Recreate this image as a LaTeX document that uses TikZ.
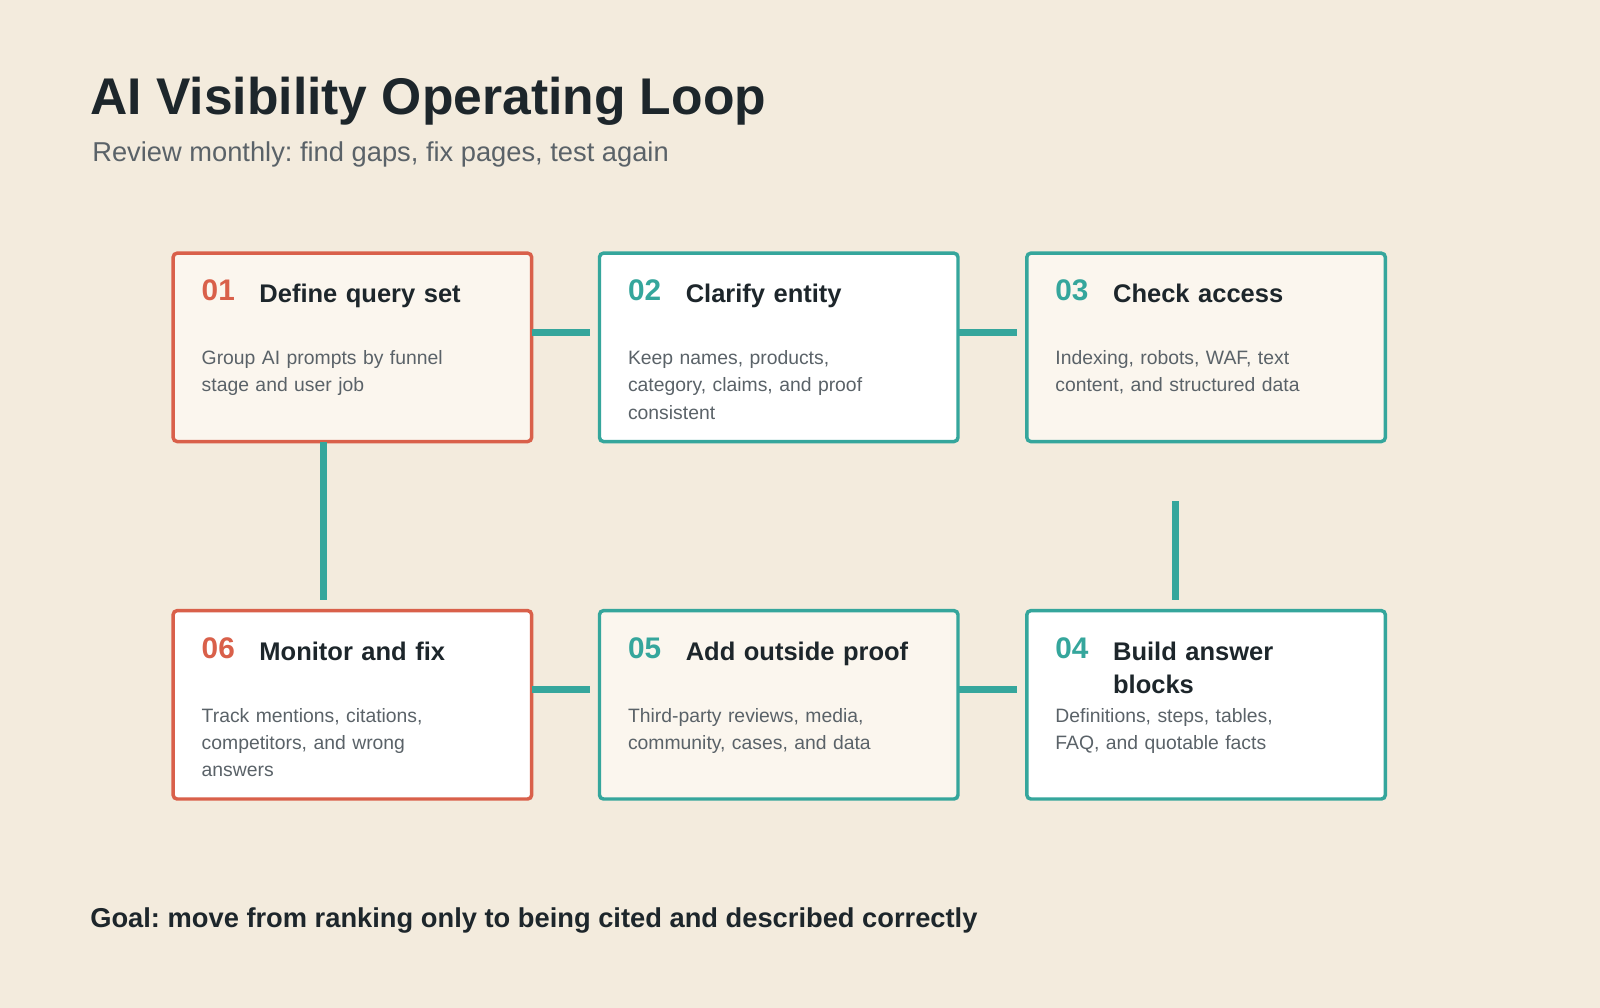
\documentclass[tikz,border=0pt]{standalone}
\usepackage{fontspec}
\setmainfont{Liberation Sans}
\definecolor{bg}{HTML}{F3EBDD}
\definecolor{cream}{HTML}{FBF6EE}
\definecolor{red}{HTML}{D9604A}
\definecolor{teal}{HTML}{35A69C}
\definecolor{dark}{HTML}{1D262B}
\definecolor{gray}{HTML}{5A6268}
\frenchspacing
\hyphenpenalty=10000
\exhyphenpenalty=10000
\begin{document}
\begin{tikzpicture}[x=1.0204pt,y=-1.0204pt,
  card/.style={draw=#1,line width=3.5pt,rounded corners=4pt},
  num/.style={anchor=base west,inner sep=0pt,font=\fontsize{30}{30}\selectfont\bfseries},
  ttl/.style={anchor=base west,inner sep=0pt,text width=235pt,align=left,text=dark,font=\fontsize{25.7}{33}\selectfont\bfseries},
  body/.style={anchor=north west,inner sep=0pt,text width=260pt,align=left,text=gray,font=\fontsize{19.5}{27.5}\selectfont},
  conn/.style={teal,line width=7pt}]
\fill[bg] (-5,-5) rectangle (1575,990);
\useasboundingbox (0,0) rectangle (1568,980);
\node[anchor=base west,inner sep=0pt,text=dark,font=\fontsize{52}{52}\selectfont\bfseries] (title) at (84,108) {AI Visibility Operating Loop};
\node[anchor=base west,inner sep=0pt,text=gray,font=\fontsize{27.5}{28}\selectfont] (sub) at (86,154) {Review monthly: find gaps, fix pages, test again};
% cards
\draw[card=red,fill=cream] (166,245) rectangle (520,431);
\draw[card=teal,fill=white] (587,245) rectangle (941,431);
\draw[card=teal,fill=cream] (1009,245) rectangle (1363,431);
\draw[card=red,fill=white] (166,598) rectangle (520,784);
\draw[card=teal,fill=cream] (587,598) rectangle (941,784);
\draw[card=teal,fill=white] (1009,598) rectangle (1363,784);
% connectors
\coordinate (a1) at (520,323); \coordinate (a2) at (578,323);
\coordinate (b1) at (941,323); \coordinate (b2) at (999,323);
\coordinate (d1) at (520,676); \coordinate (d2) at (578,676);
\coordinate (e1) at (941,676); \coordinate (e2) at (999,676);
\coordinate (v1) at (314,431); \coordinate (v2) at (314,587);
\coordinate (w1) at (1156,490); \coordinate (w2) at (1156,587);
\draw[conn] (a1)--(a2); \draw[conn] (b1)--(b2);
\draw[conn] (d1)--(d2); \draw[conn] (e1)--(e2);
\draw[conn] (v1)--(v2); \draw[conn] (w1)--(w2);
% texts row 1
\node[num,text=red] (n1) at (194,292) {01};
\node[ttl] (t1) at (251,294) {Define query set};
\node[body] (b1t) at (194,341) {Group AI prompts by funnel stage and user job};
\node[num,text=teal] (n2) at (615,292) {02};
\node[ttl] (t2) at (672,294) {Clarify entity};
\node[body] (b2t) at (615,341) {Keep names, products, category, claims, and proof consistent};
\node[num,text=teal] (n3) at (1037,292) {03};
\node[ttl] (t3) at (1094,294) {Check access};
\node[body] (b3t) at (1037,341) {Indexing, robots, WAF, text content, and structured data};
% row 2
\node[num,text=red] (n6) at (194,645) {06};
\node[ttl] (t6) at (251,647) {Monitor and fix};
\node[body] (b6t) at (194,694) {Track mentions, citations, competitors, and wrong answers};
\node[num,text=teal] (n5) at (615,645) {05};
\node[ttl] (t5) at (672,647) {Add outside proof};
\node[body] (b5t) at (615,694) {Third-party reviews, media, community, cases, and data};
\node[num,text=teal] (n4) at (1037,645) {04};
\node[ttl,text width=200pt] (t4) at (1094,647) {Build answer blocks};
\node[body,text width=240pt] (b4t) at (1037,694) {Definitions, steps, tables, FAQ, and quotable facts};
\node[anchor=base west,inner sep=0pt,text=dark,font=\fontsize{27.5}{28}\selectfont\bfseries] (goal) at (84,911) {Goal: move from ranking only to being cited and described correctly};
\end{tikzpicture}
\end{document}
